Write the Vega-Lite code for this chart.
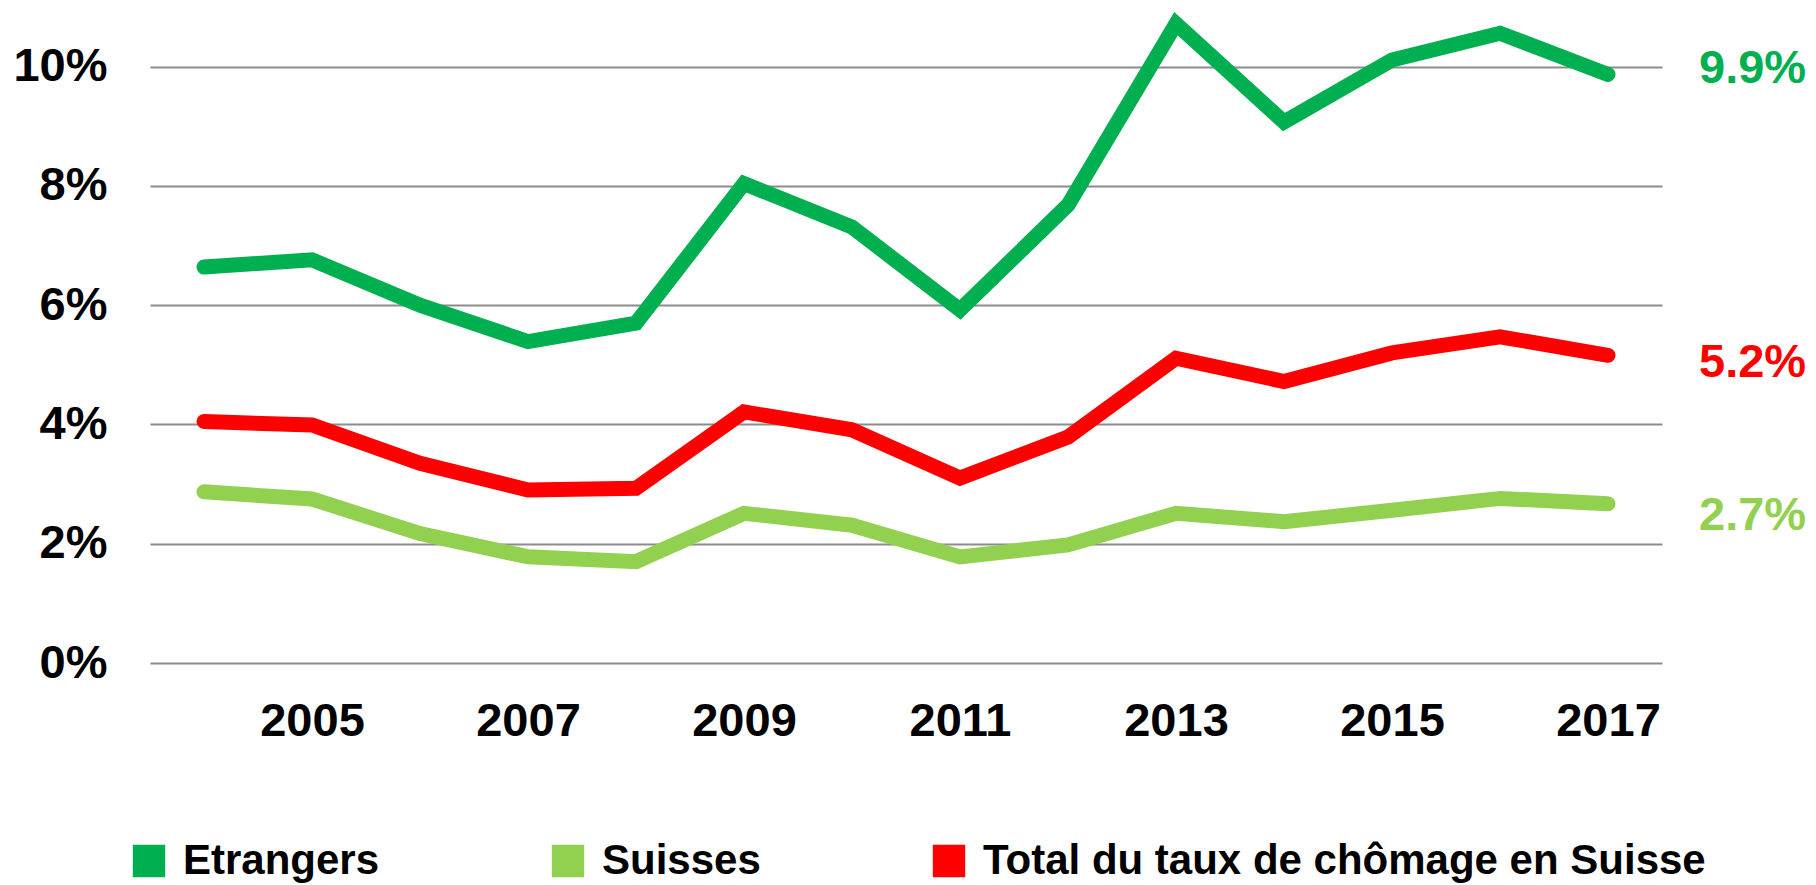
{
  "$schema": "https://vega.github.io/schema/vega-lite/v6.json",
  "width": 1512,
  "height": 656,
  "autosize": {"type": "none"},
  "padding": {"left": 150, "top": 7, "right": 154, "bottom": 222},
  "background": "white",
  "config": {"view": {"stroke": null}, "font": "Liberation Sans"},
  "data": {"values": [
    {"year": 2004, "serie": "Etrangers", "taux": 0.0664},
    {"year": 2005, "serie": "Etrangers", "taux": 0.0676},
    {"year": 2006, "serie": "Etrangers", "taux": 0.0600},
    {"year": 2007, "serie": "Etrangers", "taux": 0.0539},
    {"year": 2008, "serie": "Etrangers", "taux": 0.0570},
    {"year": 2009, "serie": "Etrangers", "taux": 0.0804},
    {"year": 2010, "serie": "Etrangers", "taux": 0.0731},
    {"year": 2011, "serie": "Etrangers", "taux": 0.0592},
    {"year": 2012, "serie": "Etrangers", "taux": 0.0768},
    {"year": 2013, "serie": "Etrangers", "taux": 0.1072},
    {"year": 2014, "serie": "Etrangers", "taux": 0.0907},
    {"year": 2015, "serie": "Etrangers", "taux": 0.1011},
    {"year": 2016, "serie": "Etrangers", "taux": 0.1056},
    {"year": 2017, "serie": "Etrangers", "taux": 0.0987},
    {"year": 2004, "serie": "Suisses", "taux": 0.0287},
    {"year": 2005, "serie": "Suisses", "taux": 0.0275},
    {"year": 2006, "serie": "Suisses", "taux": 0.0217},
    {"year": 2007, "serie": "Suisses", "taux": 0.0178},
    {"year": 2008, "serie": "Suisses", "taux": 0.0170},
    {"year": 2009, "serie": "Suisses", "taux": 0.0251},
    {"year": 2010, "serie": "Suisses", "taux": 0.0231},
    {"year": 2011, "serie": "Suisses", "taux": 0.0178},
    {"year": 2012, "serie": "Suisses", "taux": 0.0198},
    {"year": 2013, "serie": "Suisses", "taux": 0.0251},
    {"year": 2014, "serie": "Suisses", "taux": 0.0237},
    {"year": 2015, "serie": "Suisses", "taux": 0.0256},
    {"year": 2016, "serie": "Suisses", "taux": 0.0276},
    {"year": 2017, "serie": "Suisses", "taux": 0.0267},
    {"year": 2004, "serie": "Total du taux de chômage en Suisse", "taux": 0.0405},
    {"year": 2005, "serie": "Total du taux de chômage en Suisse", "taux": 0.0399},
    {"year": 2006, "serie": "Total du taux de chômage en Suisse", "taux": 0.0335},
    {"year": 2007, "serie": "Total du taux de chômage en Suisse", "taux": 0.0290},
    {"year": 2008, "serie": "Total du taux de chômage en Suisse", "taux": 0.0293},
    {"year": 2009, "serie": "Total du taux de chômage en Suisse", "taux": 0.0421},
    {"year": 2010, "serie": "Total du taux de chômage en Suisse", "taux": 0.0391},
    {"year": 2011, "serie": "Total du taux de chômage en Suisse", "taux": 0.0310},
    {"year": 2012, "serie": "Total du taux de chômage en Suisse", "taux": 0.0379},
    {"year": 2013, "serie": "Total du taux de chômage en Suisse", "taux": 0.0511},
    {"year": 2014, "serie": "Total du taux de chômage en Suisse", "taux": 0.0472},
    {"year": 2015, "serie": "Total du taux de chômage en Suisse", "taux": 0.0520},
    {"year": 2016, "serie": "Total du taux de chômage en Suisse", "taux": 0.0547},
    {"year": 2017, "serie": "Total du taux de chômage en Suisse", "taux": 0.0516}
  ]},
  "encoding": {
    "x": {
      "field": "year", "type": "quantitative",
      "scale": {"domain": [2003.5, 2017.5], "nice": false, "zero": false},
      "axis": {
        "title": null, "values": [2005, 2007, 2009, 2011, 2013, 2015, 2017], "format": "d",
        "grid": false, "domain": false, "ticks": false,
        "labelFont": "Liberation Sans", "labelFontSize": 47, "labelFontWeight": "bold", "labelColor": "black",
        "labelPadding": 35, "labelFlush": false
      }
    },
    "y": {
      "field": "taux", "type": "quantitative",
      "scale": {"domain": [0, 0.11], "nice": false},
      "axis": {
        "title": null, "values": [0, 0.02, 0.04, 0.06, 0.08, 0.1], "format": ".0%",
        "grid": true, "gridColor": "#8c8c8c", "gridWidth": 2, "gridOpacity": 1,
        "domain": false, "ticks": false,
        "labelFont": "Liberation Sans", "labelFontSize": 47, "labelFontWeight": "bold", "labelColor": "black",
        "labelPadding": 43
      }
    }
  },
  "layer": [
    {
      "mark": {"type": "line", "strokeWidth": 15, "strokeCap": "round", "strokeJoin": "miter"},
      "encoding": {
        "color": {
          "field": "serie", "type": "nominal",
          "scale": {"domain": ["Etrangers", "Suisses", "Total du taux de chômage en Suisse"], "range": ["#00B050", "#92D050", "#FF0000"]},
          "legend": {
            "orient": "none", "legendX": -22, "legendY": 833, "direction": "horizontal", "columns": 3,
            "columnPadding": 167, "title": null, "padding": 0,
            "symbolType": "square", "symbolSize": 1050, "symbolStrokeWidth": 0,
            "labelFont": "Liberation Sans", "labelFontSize": 42, "labelFontWeight": "bold", "labelColor": "black",
            "labelOffset": 13, "labelLimit": 1200,
            "encode": {"symbols": {"update": {"fill": {"scale": "color", "field": "value"}, "strokeWidth": {"value": 0}, "opacity": {"value": 1}}}}
          }
        }
      }
    },
    {
      "transform": [{"filter": "datum.year == 2017 && datum.serie == 'Etrangers'"}],
      "mark": {"type": "text", "align": "left", "baseline": "middle", "dx": 91, "dy": -5, "font": "Liberation Sans", "fontSize": 47, "fontWeight": "bold", "fill": "#00B050"},
      "encoding": {"text": {"field": "taux", "type": "quantitative", "format": ".1%"}}
    },
    {
      "transform": [{"filter": "datum.year == 2017 && datum.serie == 'Total du taux de chômage en Suisse'"}],
      "mark": {"type": "text", "align": "left", "baseline": "middle", "dx": 91, "dy": 8, "font": "Liberation Sans", "fontSize": 47, "fontWeight": "bold", "fill": "#FF0000"},
      "encoding": {"text": {"field": "taux", "type": "quantitative", "format": ".1%"}}
    },
    {
      "transform": [{"filter": "datum.year == 2017 && datum.serie == 'Suisses'"}],
      "mark": {"type": "text", "align": "left", "baseline": "middle", "dx": 91, "dy": 12, "font": "Liberation Sans", "fontSize": 47, "fontWeight": "bold", "fill": "#92D050"},
      "encoding": {"text": {"field": "taux", "type": "quantitative", "format": ".1%"}}
    }
  ]
}
